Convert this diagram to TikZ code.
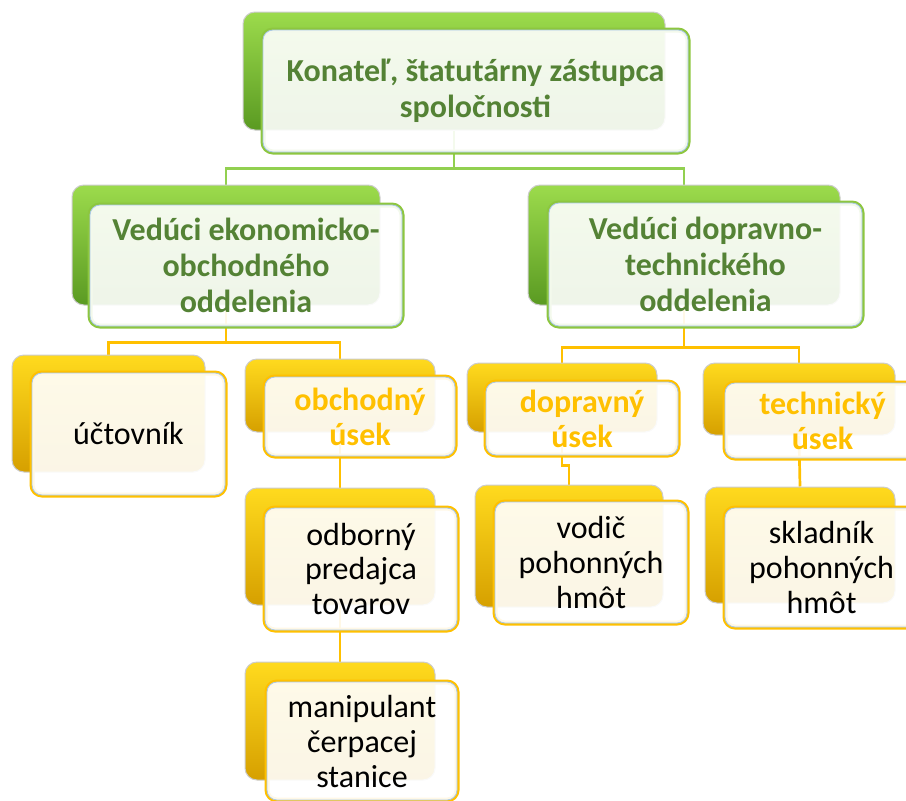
\documentclass[tikz,border=0pt]{standalone}
\usepackage{fontspec}
\setmainfont{Carlito}
\usetikzlibrary{backgrounds}

\definecolor{zelL}{HTML}{9CDB4C}
\definecolor{zelD}{HTML}{5A9A22}
\definecolor{zelR}{HTML}{8DC63F}
\definecolor{zelT}{HTML}{548235}
\definecolor{zelS}{HTML}{92D050}
\definecolor{zltL}{HTML}{FFDA1E}
\definecolor{zltD}{HTML}{D6A000}
\definecolor{zltR}{HTML}{FFC000}
\definecolor{modra}{HTML}{A9C8E6}

\begin{document}
\begin{tikzpicture}[x=1pt,y=-1pt,
  zadok/.style={rounded corners=12pt, draw=black!20, line width=1pt, inner sep=0pt},
  zadokZ/.style={zadok, top color=zelL, bottom color=zelD},
  zadokY/.style={zadok, top color=zltL, bottom color=zltD},
  predok/.style={rounded corners=10pt, fill=white, fill opacity=0.9, text opacity=1,
    draw=modra, line width=0.8pt, inner sep=0pt, align=center,
    font=\fontsize{32}{35}\selectfont},
  predokZ/.style={predok, preaction={draw=zelR, line width=5pt}, text=zelT,
    font=\bfseries\fontsize{32}{36}\selectfont},
  predokY/.style={predok, preaction={draw=zltR, line width=5pt}},
  predokYb/.style={predokY, text=zltR, font=\bfseries\fontsize{32}{35}\selectfont},
  ciaraZ/.style={draw=zelS, line width=2.7pt},
  ciaraY/.style={draw=zltR, line width=2.7pt}
]
\useasboundingbox (0,0) rectangle (906,801);

%% konatel
\node[zadokZ, minimum width=422, minimum height=118] (kon-b) at (454,71) {};
\node[predokZ, minimum width=425, minimum height=122] (kon) at (475.5,91)
  {Konateľ, štatutárny zástupca\\spoločnosti};

%% veduci oddeleni
\node[zadokZ, minimum width=308, minimum height=120] (eko-b) at (226,245) {};
\node[predokZ, minimum width=312, minimum height=121] (eko) at (246,265.5)
  {Vedúci ekonomicko-\\obchodného\\oddelenia};
\node[zadokZ, minimum width=312, minimum height=120] (dop-b) at (684,245) {};
\node[predokZ, minimum width=313, minimum height=123] (dop) at (705.5,264.5)
  {Vedúci dopravno-\\technického\\oddelenia};

%% ekonomicko-obchodne oddelenie
\node[zadokY, minimum width=193, minimum height=117] (uct-b) at (108.5,413.5) {};
\node[predokY, minimum width=193, minimum height=122] (uct) at (128.5,434) {účtovník};
\node[zadokY, minimum width=190, minimum height=73] (obu-b) at (340,395.5) {};
\node[predokYb, minimum width=190, minimum height=79] (obu) at (360,416.5) {obchodný\\úsek};
\node[zadokY, minimum width=190, minimum height=117] (odb-b) at (340,546.5) {};
\node[predokY, minimum width=192, minimum height=122] (odb) at (361,569)
  {odborný\\predajca\\tovarov};
\node[zadokY, minimum width=190, minimum height=118] (man-b) at (340,721) {};
\node[predokY, minimum width=190, minimum height=118] (man) at (362,741)
  {manipulant\\čerpacej\\stanice};

%% dopravno-technicke oddelenie
\node[zadokY, minimum width=190, minimum height=69] (dou-b) at (562,397.5) {};
\node[predokYb, minimum width=192, minimum height=73] (dou) at (582,418.5) {dopravný\\úsek};
\node[zadokY, minimum width=188, minimum height=122] (vod-b) at (569,546) {};
\node[predokY, minimum width=192, minimum height=121] (vod) at (591,562.5)
  {vodič\\pohonných\\hmôt};
\node[zadokY, minimum width=192, minimum height=72] (teu-b) at (799,399) {};
\node[predokYb, minimum width=195, minimum height=75] (teu) at (822.5,420.5) {technický\\úsek};
\node[zadokY, minimum width=190, minimum height=116] (skl-b) at (800,545) {};
\node[predokY, minimum width=193, minimum height=119] (skl) at (821.5,567.5)
  {skladník\\pohonných\\hmôt};

%% spojnice
\begin{scope}[on background layer]
  \draw[ciaraZ] (kon-b.south) -- ++(0,38) -| (eko-b.north);
  \draw[ciaraZ] (kon-b.south) -- ++(0,38) -| (dop-b.north);
  \draw[ciaraY] (eko-b.south) -- ++(0,37) -| (uct-b.north);
  \draw[ciaraY] (eko-b.south) -- ++(0,37) -| (obu-b.north);
  \draw[ciaraY] (dop-b.south) -- ++(0,42) -| (dou-b.north);
  \draw[ciaraY] (dop-b.south) -- ++(0,42) -| (teu-b.north);
  \draw[ciaraY] (obu-b.south) -- (odb-b.north);
  \draw[ciaraY] (odb-b.south) -- (man-b.north);
  \draw[ciaraY] (dou-b.south) -- ++(0,33) -| (vod-b.north);
  \draw[ciaraY] (teu-b.south) -- (skl-b.north);
\end{scope}
\end{tikzpicture}
\end{document}
